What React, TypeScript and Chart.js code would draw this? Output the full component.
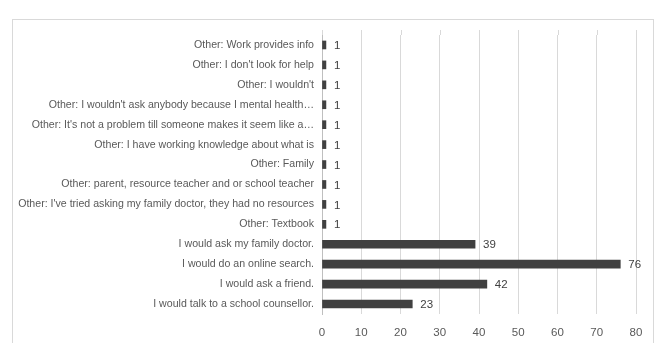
import React, { useEffect, useRef } from "react";
import { Chart, registerables } from "chart.js";

Chart.register(...registerables);

const categories: string[] = [
  "Other: Work provides info",
  "Other: I don't look for help",
  "Other: I wouldn't",
  "Other: I wouldn't ask anybody because I mental health…",
  "Other: It's not a problem till someone makes it seem like a…",
  "Other: I have working knowledge about what is",
  "Other: Family",
  "Other: parent, resource teacher and or school teacher",
  "Other: I've tried asking my family doctor, they had no resources",
  "Other: Textbook",
  "I would ask my family doctor.",
  "I would do an online search.",
  "I would ask a friend.",
  "I would talk to a school counsellor.",
];

const counts: number[] = [1, 1, 1, 1, 1, 1, 1, 1, 1, 1, 39, 76, 42, 23];

const xTicks: number[] = [0, 10, 20, 30, 40, 50, 60, 70, 80];

const FONT = "'Liberation Sans', Arial, sans-serif";

const valueLabels = {
  id: "valueLabels",
  afterDatasetsDraw(chart: any) {
    const ctx = chart.ctx;
    const meta = chart.getDatasetMeta(0);
    ctx.save();
    ctx.font = `11.5px ${FONT}`;
    ctx.fillStyle = "#404040";
    ctx.textAlign = "left";
    ctx.textBaseline = "middle";
    meta.data.forEach((bar: any, i: number) => {
      ctx.fillText(String(counts[i]), bar.x + 8, bar.y + 1);
    });
    ctx.restore();
  },
};

const gridExtend = {
  id: "gridExtend",
  beforeDatasetsDraw(chart: any) {
    const ctx = chart.ctx;
    const xs = chart.scales.x;
    const top = chart.chartArea.top;
    ctx.save();
    ctx.strokeStyle = "#d9d9d9";
    ctx.lineWidth = 1;
    xTicks.forEach((v) => {
      const x = Math.round(xs.getPixelForValue(v)) + 0.5;
      ctx.beginPath();
      ctx.moveTo(x, top - 5);
      ctx.lineTo(x, top);
      ctx.stroke();
    });
    ctx.restore();
  },
};

export default function App() {
  const ref = useRef<HTMLCanvasElement | null>(null);

  useEffect(() => {
    if (!ref.current) return;
    const chart = new Chart(ref.current, {
      type: "bar",
      data: {
        labels: categories,
        datasets: [
          {
            data: counts,
            backgroundColor: "#404040",
            borderWidth: 0,
            barThickness: 8,
          },
        ],
      },
      options: {
        indexAxis: "y",
        animation: false,
        responsive: false,
        maintainAspectRatio: false,
        layout: { padding: { left: 0, top: 35, right: 23, bottom: 0 } },
        plugins: {
          legend: { display: false },
          tooltip: { enabled: false },
        },
        scales: {
          x: {
            type: "linear",
            min: 0,
            max: 80,
            afterBuildTicks: (scale: any) => {
              scale.ticks = xTicks.map((v) => ({ value: v }));
            },
            afterFit: (scale: any) => {
              scale.height = 343 - 35 - 279;
            },
            grid: { color: "#d9d9d9", drawTicks: false, lineWidth: 1 },
            border: { display: false },
            ticks: {
              padding: 12,
              color: "#595959",
              font: { family: FONT, size: 11.5 },
            },
          },
          y: {
            type: "category",
            offset: true,
            afterFit: (scale: any) => {
              scale.width = 322;
            },
            grid: { display: false, drawTicks: false },
            border: { display: true, color: "#bfbfbf" },
            ticks: {
              padding: 8,
              color: "#595959",
              autoSkip: false,
              font: { family: FONT, size: 10.6 },
            },
          },
        },
      },
      plugins: [valueLabels, gridExtend],
    });
    return () => chart.destroy();
  }, []);

  return (
    <div style={{ position: "fixed", left: 0, top: 0, width: 659, height: 343, background: "#ffffff", overflow: "hidden" }}>
      <div
        style={{
          position: "absolute",
          left: 12,
          top: 19,
          width: 640,
          height: 400,
          border: "1px solid #d9d9d9",
        }}
      />
      <canvas
        ref={ref}
        width={659}
        height={343}
        style={{ position: "absolute", left: 0, top: 0, width: 659, height: 343 }}
      />
    </div>
  );
}
